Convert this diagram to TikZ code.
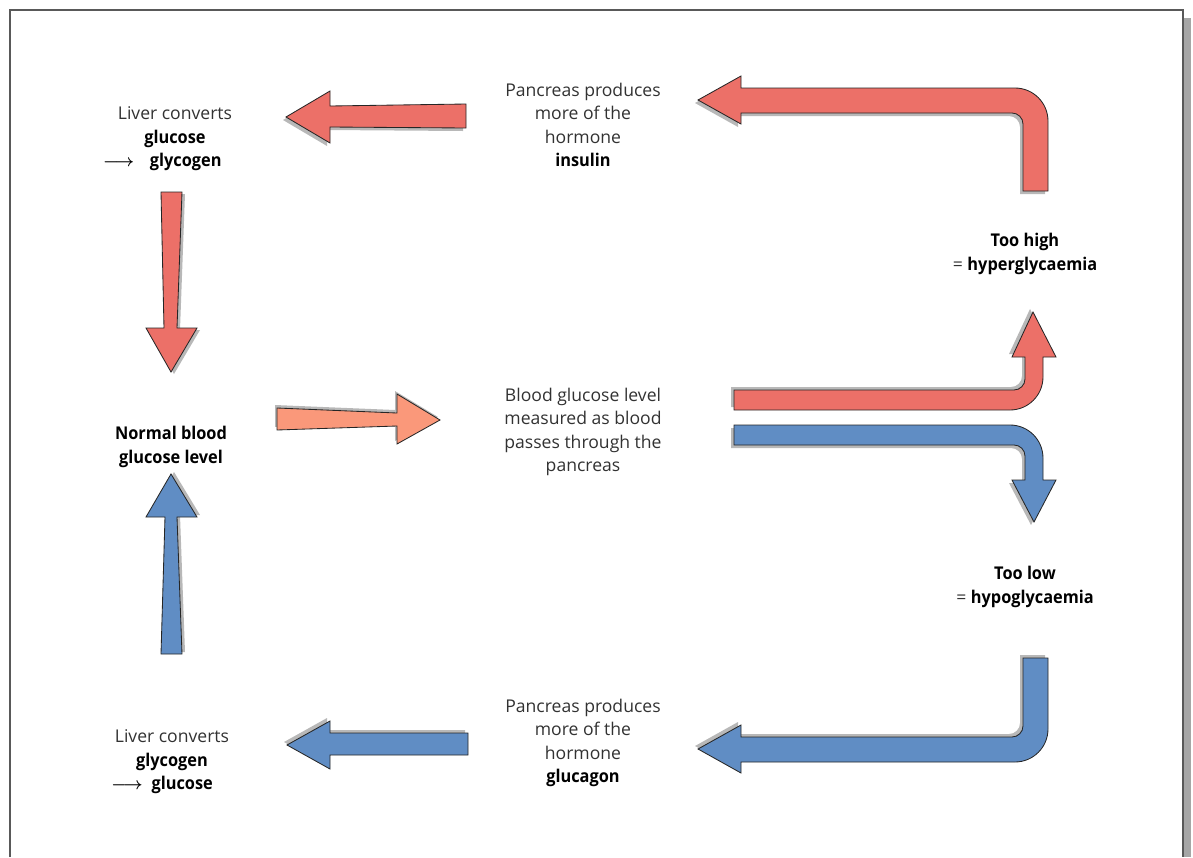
\documentclass[tikz,border=0pt]{standalone}
\usepackage{fontspec}
\setmainfont{Open Sans}
\newfontfamily\condbf[FakeStretch=0.93]{Open Sans Bold}
\usetikzlibrary{calc}

\definecolor{insred}{RGB}{236,112,104}
\definecolor{glublue}{RGB}{96,141,196}
\definecolor{salmon}{RGB}{250,152,122}
\definecolor{inktext}{RGB}{50,50,50}

\tikzset{
  arr/.style={draw=black!85, line width=0.6pt, line join=miter, fill=#1},
  drop/.style={preaction={draw=none, fill=black!28, transform canvas={shift={(#1)}}}},
  label/.style={align=center, text=inktext, font=\fontsize{12.5}{16.7}\selectfont}
}
\newcommand\hl[1]{{\condbf\color{black}#1}}
\newcommand\yields{{\color{black}\boldmath$\longrightarrow$}}

\begin{document}
\begin{tikzpicture}[x=0.025cm, y=-0.025cm]
  \useasboundingbox (0,0) rectangle (1193,857);
  %%%%% frame %%%%%
  \fill[black!35] (1184,18) rectangle (1191,857);
  \draw[black!65, line width=1pt] (10,857) -- (10,10) -- (1183,10) -- (1183,857);

  %%%%% texts %%%%%
  \node[label] (liverin) at (175,139) {Liver converts\\ \hl{glucose}\\ \yields\hspace{11pt}\hl{glycogen}\hspace*{18pt}};
  \node[label] (insulin) at (583,125) {Pancreas produces\\ more of the\\ hormone\\ \hl{insulin}};
  \node[label] (high) at (1025,254) {\hl{Too high}\\ = \hl{hyperglycaemia}};
  \node[label] (normal) at (171,447) {\hl{Normal blood}\\ \hl{glucose level}};
  \node[label] (blood) at (583,432) {Blood glucose level\\ measured as blood\\ passes through the\\ pancreas};
  \node[label] (low) at (1025,587) {\hl{Too low}\\ = \hl{hypoglycaemia}};
  \node[label] (glucagon) at (583,743) {Pancreas produces\\ more of the\\ hormone\\ \hl{glucagon}};
  \node[label] (liverout) at (172,762) {Liver converts\\ \hl{glycogen}\\ \yields\enspace\hl{glucose}\hspace*{14pt}};

  %%%%% insulin loop %%%%%
  \draw[arr=insred, drop={-3,3}] (698,100) -- (741,76) -- (741,88) -- (1015,88)
    arc (-90:0:33) -- (1048,191) -- (1023,191) -- (1023,124)
    arc (0:-90:11) -- (741,113) -- (741,124) -- cycle;
  \draw[arr=insred, drop={-3,3}] (286,117) -- (330,91) -- (330,106) -- (466,104)
    -- (466,128) -- (330,127) -- (330,143) -- cycle;
  \draw[arr=insred, drop={3,2}] (161,192) -- (182,192) -- (177,328) -- (197,328)
    -- (171,372) -- (146,328) -- (164,328) -- cycle;
  \draw[arr=insred, drop={-3,-3}] (734,390) -- (1014,390) arc (90:0:11) -- (1025,357)
    -- (1012,357) -- (1033,312) -- (1056,357) -- (1043,357) -- (1043,377)
    arc (0:90:33) -- (734,410) -- cycle;

  %%%%% measuring %%%%%
  \draw[arr=salmon, drop={-2,-3}] (277,408) -- (397,413) -- (397,394) -- (440,420)
    -- (397,444) -- (397,426) -- (277,430) -- cycle;

  %%%%% glucagon loop %%%%%
  \draw[arr=glublue, drop={-3,3}] (734,425) -- (1010,425) arc (-90:0:33) -- (1043,480)
    -- (1056,480) -- (1034,522) -- (1012,480) -- (1025,480) -- (1025,456)
    arc (0:-90:11) -- (734,445) -- cycle;
  \draw[arr=glublue, drop={-3,-3}] (1023,658) -- (1048,658) -- (1048,729)
    arc (0:90:33) -- (741,762) -- (741,773) -- (698,749) -- (741,725) -- (741,737)
    -- (1012,737) arc (90:0:11) -- cycle;
  \draw[arr=glublue, drop={-3,-3}] (287,745) -- (330,721) -- (330,733) -- (468,733)
    -- (468,755) -- (330,755) -- (330,769) -- cycle;
  \draw[arr=glublue, drop={3,-2}] (161,654) -- (182,654) -- (177,517) -- (197,517)
    -- (171,474) -- (146,517) -- (165,517) -- cycle;
\end{tikzpicture}
\end{document}
